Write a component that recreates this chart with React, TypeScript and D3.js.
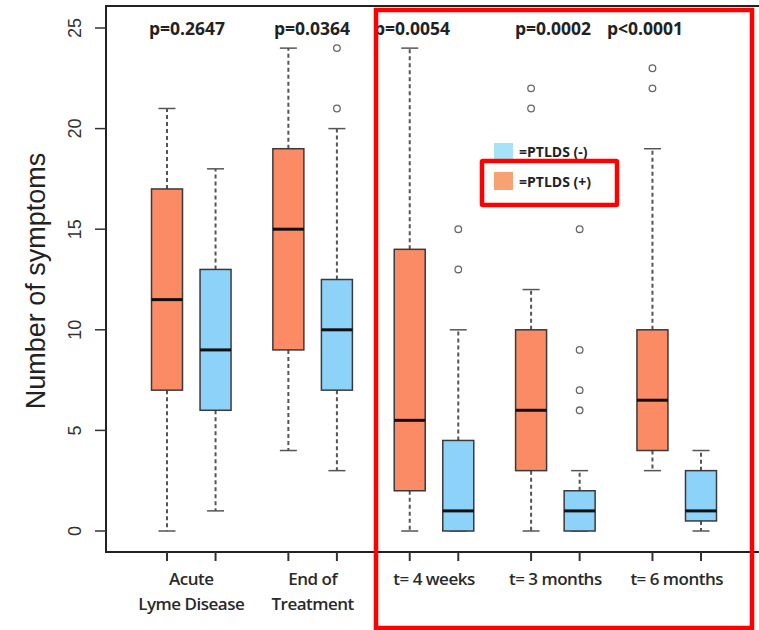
import React from 'react';
import * as d3 from 'd3';

// box stats: [low whisker, Q1, median, Q3, high whisker]
const groups = ['Acute|Lyme Disease', 'End of|Treatment', 't= 4 weeks', 't= 3 months', 't= 6 months'];
const pValues = ['p=0.2647', 'p=0.0364', 'p=0.0054', 'p=0.0002', 'p<0.0001'];
const positiveStats = [
  [0, 7, 11.5, 17, 21],
  [4, 9, 15, 19, 24],
  [0, 2, 5.5, 14, 24],
  [0, 3, 6, 10, 12],
  [3, 4, 6.5, 10, 19],
];
const negativeStats = [
  [1, 6, 9, 13, 18],
  [3, 7, 10, 12.5, 20],
  [0, 0, 1, 4.5, 10],
  [0, 0, 1, 2, 3],
  [0, 0.5, 1, 3, 4],
];
const positiveOutliers = [[], [], [], [21, 22], [22, 23]];
const negativeOutliers = [[], [21, 24], [13, 15], [6, 7, 9, 15], []];
const yTicks = [0, 5, 10, 15, 20, 25];

const ORANGE = '#fa8b64';
const BLUE = '#8dd2f8';
const LABEL_FONT = '"Open Sans", sans-serif';

const App = () => {
  const width = 759;
  const height = 630;
  const left = 106, top = 6, bottom = 552;

  const x = d3.scaleLinear().domain([1, 12]).range([167, 701]);
  const y = d3.scaleLinear().domain([0, 25]).range([531, 28]);
  const boxHalf = 15.5;
  const capHalf = 8.5;

  const positions = groups.map((_, i) => [1 + i * 2.5, 2 + i * 2.5]);

  const drawBox = (s: number[], cx: number, fill: string, outliers: number[], key: string) => (
    <g key={key}>
      <line x1={cx} x2={cx} y1={y(s[3])} y2={y(s[4])} stroke="#555" strokeWidth={2} strokeDasharray="4,3" />
      <line x1={cx} x2={cx} y1={y(s[1])} y2={y(s[0])} stroke="#555" strokeWidth={2} strokeDasharray="4,3" />
      <line x1={cx - capHalf} x2={cx + capHalf} y1={y(s[4])} y2={y(s[4])} stroke="#555" strokeWidth={1.5} />
      <line x1={cx - capHalf} x2={cx + capHalf} y1={y(s[0])} y2={y(s[0])} stroke="#555" strokeWidth={1.5} />
      <rect x={cx - boxHalf} y={y(s[3])} width={boxHalf * 2} height={y(s[1]) - y(s[3])}
        fill={fill} stroke="#3a3a3a" strokeWidth={1.5} />
      <line x1={cx - boxHalf} x2={cx + boxHalf} y1={y(s[2])} y2={y(s[2])} stroke="#111" strokeWidth={3} />
      {outliers.map((o, j) => (
        <circle key={j} cx={cx} cy={y(o)} r={3.3} fill="none" stroke="#666" strokeWidth={1.3} />
      ))}
    </g>
  );

  return (
    <svg width={width} height={height} style={{ position: 'absolute', left: 0, top: 0, background: '#fff' }}>
      {/* frame */}
      <path d={`M${width + 5},${top} H${left} V${bottom} H${width + 5}`} fill="none" stroke="#222" strokeWidth={2} />

      {/* y axis */}
      {yTicks.map(t => (
        <g key={t}>
          <line x1={left - 11} x2={left} y1={y(t)} y2={y(t)} stroke="#333" strokeWidth={1.5} />
          <text transform={`translate(${81},${y(t)}) rotate(-90)`} textAnchor="middle"
            fontFamily="Liberation Sans, Arial, sans-serif" fontSize={18} fill="#333">{t}</text>
        </g>
      ))}
      <text transform={`translate(45,${281}) rotate(-90)`} textAnchor="middle"
        fontFamily="Liberation Sans, Arial, sans-serif" fontSize={27} fill="#222">Number of symptoms</text>

      {/* boxes */}
      {groups.map((g, i) => (
        <g key={g}>
          {drawBox(positiveStats[i], x(positions[i][0]), ORANGE, positiveOutliers[i], 'p' + i)}
          {drawBox(negativeStats[i], x(positions[i][1]), BLUE, negativeOutliers[i], 'n' + i)}
          {positions[i].map((p, k) => (
            <line key={k} x1={x(p)} x2={x(p)} y1={bottom} y2={bottom + 9} stroke="#333" strokeWidth={2} />
          ))}
          {g.split('|').map((line, k) => (
            <text key={k} x={(x(positions[i][0]) + x(positions[i][1])) / 2} y={585 + k * 25}
              textAnchor="middle" fontFamily={LABEL_FONT} fontWeight={600} fontSize={17}
              letterSpacing={-0.5} fill="#2a2a2a">{line}</text>
          ))}
        </g>
      ))}

      {/* p-values */}
      {pValues.map((p, i) => (
        <text key={p} x={[187, 312, 412, 553, 645][i]} y={35} textAnchor="middle"
          fontFamily={LABEL_FONT} fontWeight={700} fontSize={17.5} fill="#222">{p}</text>
      ))}

      {/* legend */}
      <rect x={494} y={143} width={19} height={16} fill="#a6e3f7" />
      <text x={519} y={157} fontFamily={LABEL_FONT} fontWeight={700} fontSize={14} fill="#222">=PTLDS (-)</text>
      <rect x={494} y={172} width={19} height={18} fill="#f8a274" />
      <text x={519} y={187} fontFamily={LABEL_FONT} fontWeight={700} fontSize={14} fill="#222">=PTLDS (+)</text>

      {/* highlight rectangles */}
      <rect x={376} y={10} width={376} height={618} fill="none" stroke="#ff0000" strokeWidth={4.5} />
      <rect x={482} y={161} width={135} height={44} fill="none" stroke="#ff0000" strokeWidth={4.5} rx={1} />
    </svg>
  );
};

export default App;
